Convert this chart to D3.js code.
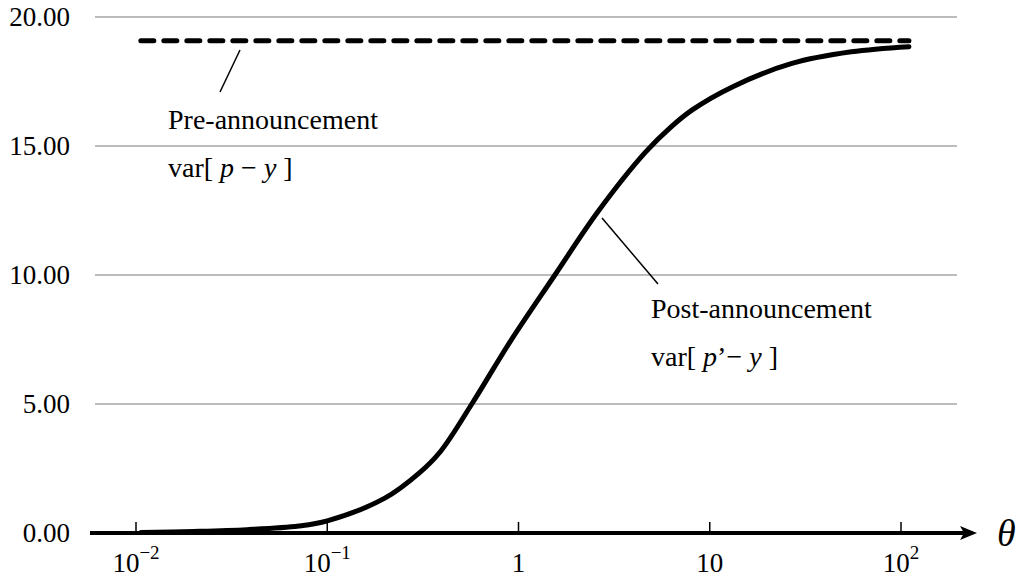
<!DOCTYPE html>
<html>
<head>
<meta charset="utf-8">
<script src="https://cdn.jsdelivr.net/npm/d3@7"></script>
<style>
  body { margin: 0; background: #fff; }
  text { font-family: "Liberation Serif", "Times New Roman", serif; fill: #000; }
</style>
</head>
<body>
<div id="chart"></div>
<script>
// values
const thetaPost = [0.0106, 0.02, 0.038, 0.071, 0.1, 0.2, 0.3, 0.39, 0.57, 0.91, 1.55, 2.6, 4.6, 6.3, 8.1, 13.2, 26.9, 55, 110];
const varPost = [0.02, 0.06, 0.13, 0.27, 0.47, 1.35, 2.3, 3.15, 5.0, 7.45, 10.0, 12.45, 14.75, 15.75, 16.4, 17.3, 18.2, 18.65, 18.85];
const thetaPre = [0.0106, 110];
const varPre = [19.08, 19.08];

const yTicks = [0, 5, 10, 15, 20];
const xTicks = [0.01, 0.1, 1, 10, 100];
const xTickBase = ["10", "10", "1", "10", "10"];
const xTickExp = ["\u22122", "\u22121", "", "", "2"];

let width = 1024;
let height = 577;

const svg = d3.select("#chart")
  .append("svg")
  .attr("width", width)
  .attr("height", height);

const x = d3.scaleLog().domain([0.01, 100]).range([136, 901]);
const y = d3.scaleLinear().domain([0, 20]).range([533, 17]);

// grid lines (not at 0, the axis sits there)
svg.selectAll(".grid")
  .data(yTicks.filter(d => d > 0))
  .enter()
  .append("line")
  .attr("class", "grid")
  .attr("x1", 95).attr("x2", 957)
  .attr("y1", d => y(d)).attr("y2", d => y(d))
  .style("stroke", "#a6a6a6")
  .style("stroke-width", 1.5);

// y labels
const yAxis = svg.append("g")
  .attr("transform", "translate(70,0)")
  .call(d3.axisLeft(y).tickValues(yTicks).tickFormat(d3.format(".2f")).tickSize(0).tickPadding(0));
yAxis.select(".domain").remove();
yAxis.selectAll("text")
  .style("font-family", "'Liberation Serif', serif")
  .style("font-size", "27px")
  .attr("fill", "#000");

// x axis line with arrow
svg.append("line")
  .attr("x1", 90).attr("x2", 966)
  .attr("y1", y(0)).attr("y2", y(0))
  .style("stroke", "#000")
  .style("stroke-width", 4);
svg.append("path")
  .attr("d", "M960," + (y(0) - 7) + " L977," + y(0) + " L960," + (y(0) + 7) + " L964," + y(0) + " Z")
  .style("fill", "#000");

// ticks
svg.selectAll(".xtick")
  .data(xTicks)
  .enter()
  .append("line")
  .attr("class", "xtick")
  .attr("x1", d => x(d)).attr("x2", d => x(d))
  .attr("y1", y(0) - 11).attr("y2", y(0))
  .style("stroke", "#000")
  .style("stroke-width", 1.5);

// tick labels with superscripts
const xl = svg.selectAll(".xlabel")
  .data(xTicks)
  .enter()
  .append("text")
  .attr("class", "xlabel")
  .attr("x", d => x(d))
  .attr("y", 572)
  .attr("text-anchor", "middle")
  .style("font-size", "27px");
xl.append("tspan").text((d, i) => xTickBase[i]);
xl.append("tspan")
  .attr("dy", -13)
  .style("font-size", "19px")
  .text((d, i) => xTickExp[i]);

// theta
svg.append("text")
  .attr("x", 997)
  .attr("y", 546)
  .style("font-size", "38px")
  .style("font-style", "italic")
  .text("\u03b8");

// lines
const line = d3.line()
  .x(d => x(d[0]))
  .y(d => y(d[1]))
  .curve(d3.curveCatmullRom.alpha(0.5));

svg.append("path")
  .datum(thetaPost.map((t, i) => [t, varPost[i]]))
  .attr("d", line)
  .style("fill", "none")
  .style("stroke", "#000")
  .style("stroke-width", 5)
  .style("stroke-linecap", "round");

svg.append("path")
  .datum(thetaPre.map((t, i) => [t, varPre[i]]))
  .attr("d", line)
  .style("fill", "none")
  .style("stroke", "#000")
  .style("stroke-width", 5)
  .style("stroke-dasharray", "13,10")
  .style("stroke-linecap", "round");

// annotations
svg.append("line")
  .attr("x1", 240).attr("y1", 50).attr("x2", 220).attr("y2", 92)
  .style("stroke", "#000").style("stroke-width", 1.5);
svg.append("line")
  .attr("x1", 602).attr("y1", 218).attr("x2", 658).attr("y2", 284)
  .style("stroke", "#000").style("stroke-width", 1.5);

function label(x0, y0, title, prime) {
  svg.append("text")
    .attr("x", x0).attr("y", y0)
    .style("font-size", "28px")
    .text(title);
  const t = svg.append("text")
    .attr("x", x0).attr("y", y0 + 48)
    .style("font-size", "28px");
  t.append("tspan").text("var[ ");
  t.append("tspan").style("font-style", "italic").text("p");
  t.append("tspan").text(prime ? "\u2019\u2212 " : " \u2212 ");
  t.append("tspan").style("font-style", "italic").text("y");
  t.append("tspan").text(" ]");
}

label(168, 129, "Pre-announcement", false);
label(651, 318, "Post-announcement", true);
</script>
</body>
</html>
